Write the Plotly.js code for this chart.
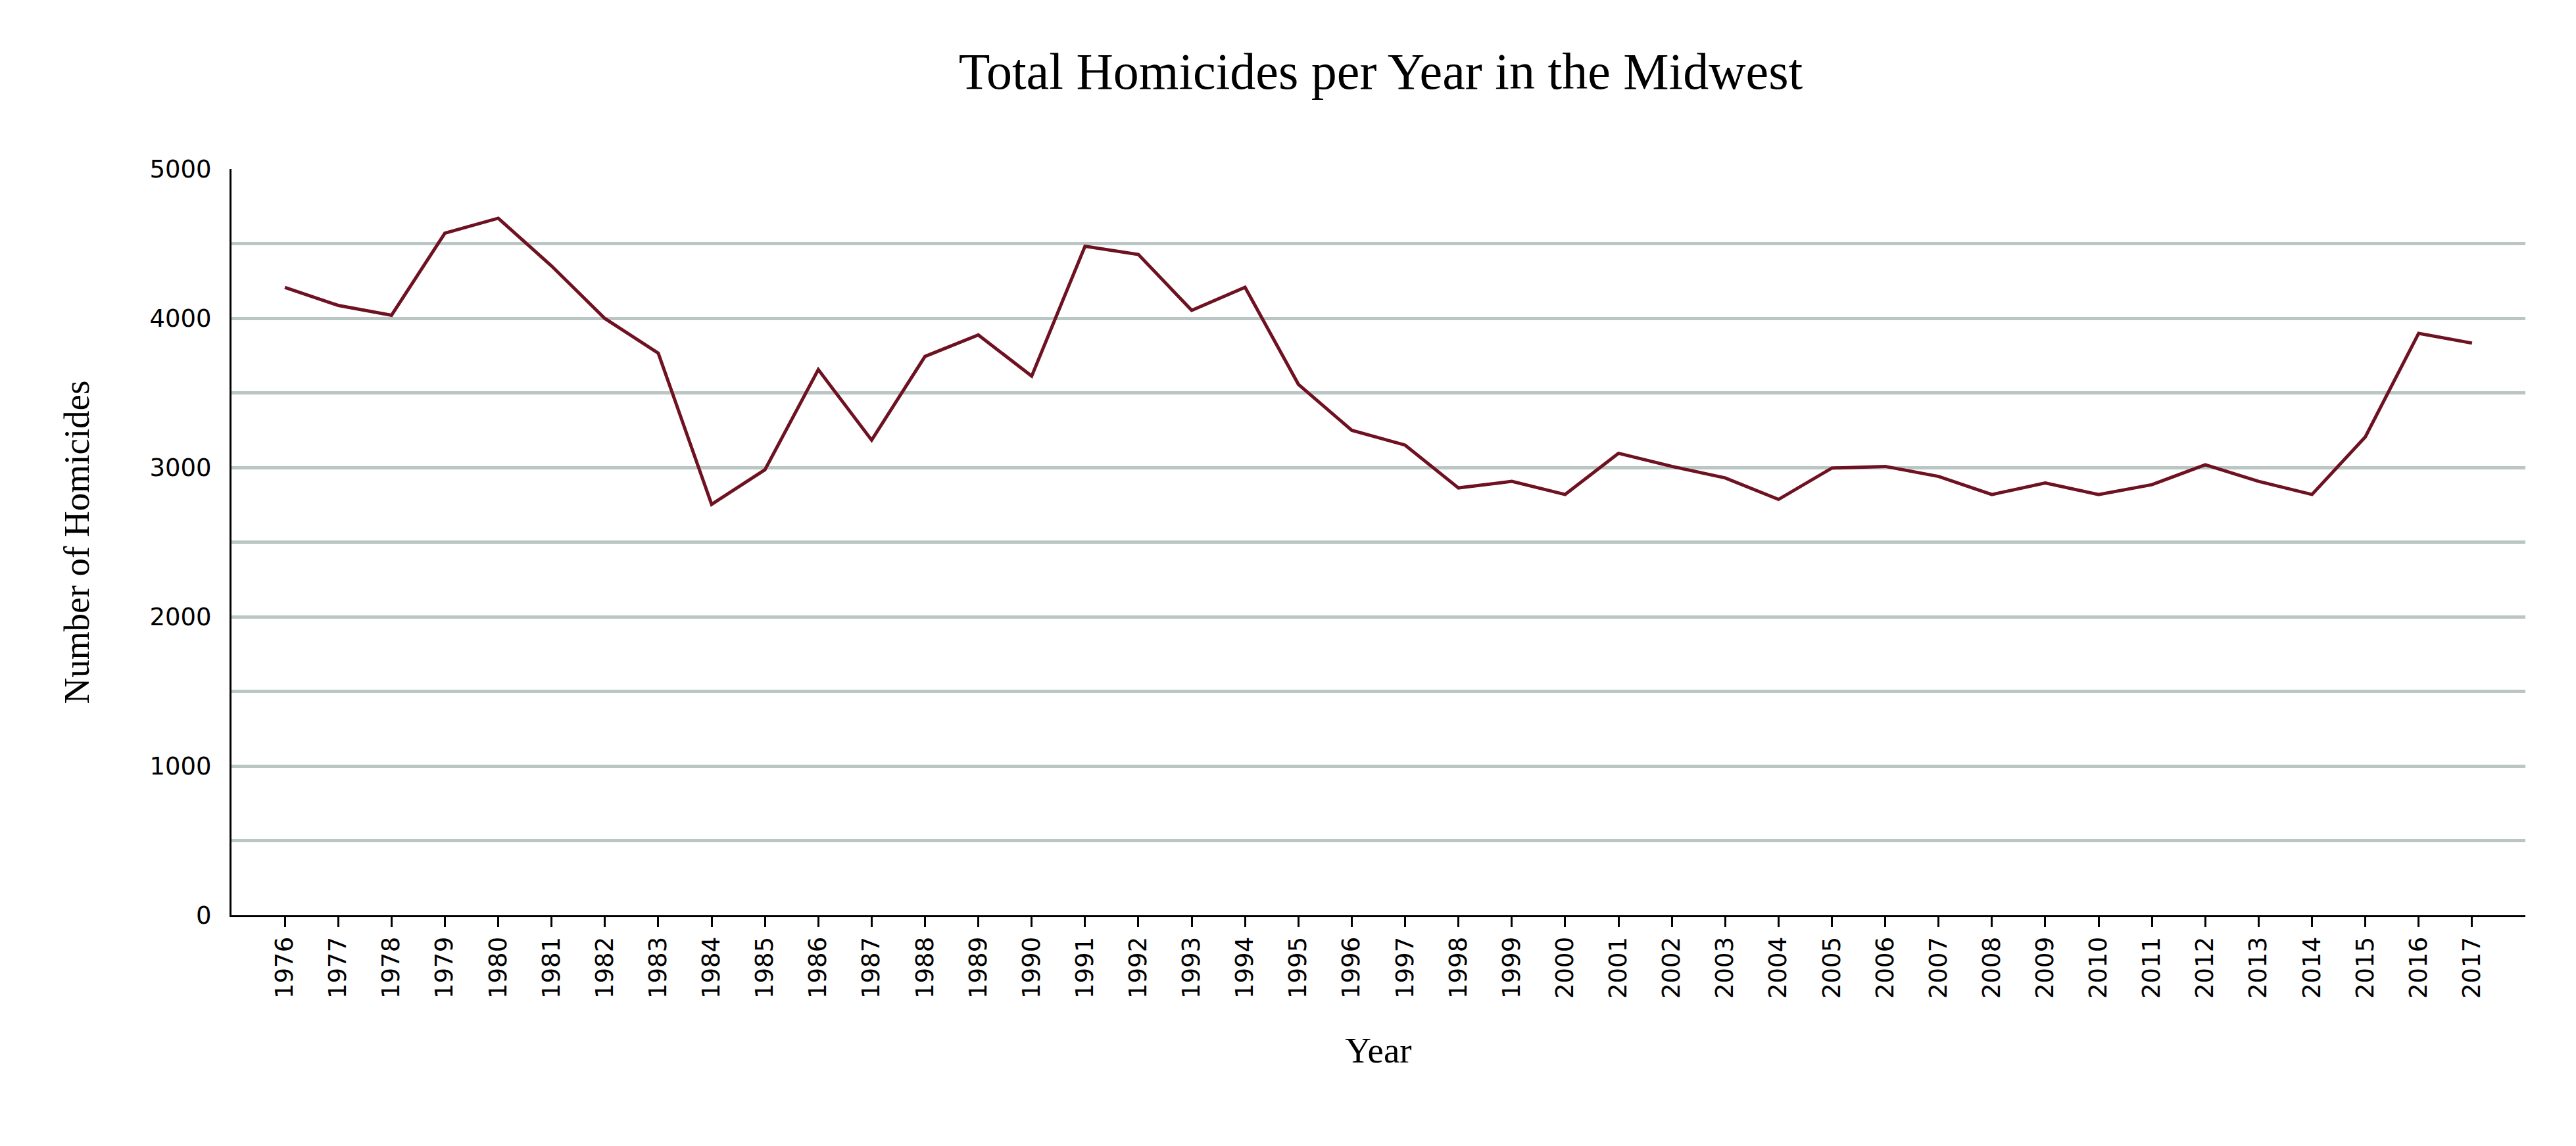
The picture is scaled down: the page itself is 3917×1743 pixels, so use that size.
<!DOCTYPE html>
<html>
<head>
<meta charset="utf-8">
<script src="https://cdn.plot.ly/plotly-3.0.1.min.js"></script>
<style>html,body{margin:0;padding:0;background:#fff}</style>
</head>
<body>
<div id="chart" style="width:3917px;height:1743px"></div>
<script>
let years = [];
for (let y = 1976; y <= 2017; y++) years.push(String(y));
let homicides = [
  4207, 4086, 4020, 4570, 4670, 4350, 3998, 3766, 2753, 2985,
  3656, 3183, 3744, 3888, 3612, 4482, 4427, 4053, 4207, 3557,
  3249, 3150, 2863, 2907, 2819, 3095, 3007, 2930, 2786, 2996,
  3007, 2940, 2819, 2896, 2819, 2885, 3018, 2907, 2819, 3205,
  3899, 3833
];

let traces = [{
  x: years,
  y: homicides,
  mode: "lines",
  line: { color: "#6e1120", width: 5 },
}];

let layout = {
  width: 3917,
  height: 1743,
  margin: { l: 352, r: 77, t: 257, b: 351 },
  paper_bgcolor: "#fff",
  plot_bgcolor: "#fff",
  showlegend: false,
  font: { family: "DejaVu Sans", size: 37, color: "#000" },
  title: {
    text: "Total Homicides per Year in the Midwest",
    font: { family: "Liberation Serif", size: 78, color: "#000" },
    x: 0.536, xanchor: "center", y: 0.938, yanchor: "middle",
  },
  xaxis: {
    type: "category",
    tickangle: -90,
    ticks: "outside", ticklen: 15, tickwidth: 3, tickcolor: "#000",
    showline: true, linecolor: "#000", linewidth: 3,
    showgrid: false, zeroline: false,
    range: [-1, 42],
    title: { text: "Year", font: { family: "Liberation Serif", size: 55 }, standoff: 60 },
  },
  yaxis: {
    range: [0, 5000],
    tickvals: [0, 1000, 2000, 3000, 4000, 5000],
    ticks: "", ticklabelstandoff: 20,
    showline: true, linecolor: "#000", linewidth: 3,
    showgrid: false, zeroline: false,
    minor: { dtick: 500, showgrid: true, gridcolor: "#b9c6c4", gridwidth: 5 },
    title: { text: "Number of Homicides", font: { family: "Liberation Serif", size: 55 }, standoff: 75 },
  },
};

Plotly.newPlot(document.getElementById("chart"), traces, layout, { displayModeBar: false });
</script>
</body>
</html>
